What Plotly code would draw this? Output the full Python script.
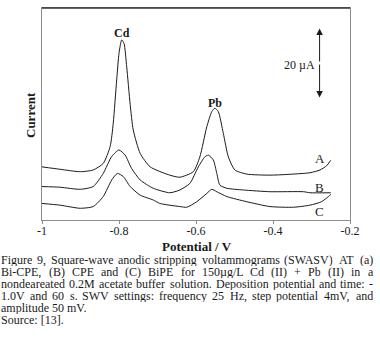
import plotly.graph_objects as go

# ---- data (potential in V, current in µA, arbitrary offset) ----
potential_a = [-1.0, -0.953, -0.901, -0.867, -0.841, -0.823, -0.815, -0.806, -0.800, -0.793,
               -0.787, -0.780, -0.771, -0.763, -0.745, -0.719, -0.668, -0.642, -0.607, -0.590,
               -0.572, -0.559, -0.551, -0.542, -0.529, -0.516, -0.499, -0.468, -0.408, -0.364,
               -0.304, -0.278, -0.261, -0.250]
current_a = [15.4, 14.7, 14.0, 14.5, 16.4, 21.3, 28.0, 40.6, 48.3, 52.2,
             51.2, 44.4, 33.5, 26.1, 19.3, 15.4, 13.0, 12.4, 14.0, 18.3,
             27.0, 31.4, 32.4, 31.4, 25.1, 18.3, 14.5, 13.3, 13.0, 13.2,
             13.7, 14.5, 15.7, 17.3]

potential_b = [-1.0, -0.953, -0.901, -0.867, -0.841, -0.819, -0.800, -0.784, -0.767, -0.745,
               -0.711, -0.668, -0.642, -0.616, -0.594, -0.577, -0.568, -0.555, -0.546, -0.538,
               -0.520, -0.477, -0.408, -0.321, -0.304, -0.250]
current_b = [9.7, 9.5, 8.9, 9.7, 13.5, 18.4, 20.3, 18.8, 14.9, 11.6,
             9.2, 7.9, 8.7, 10.6, 15.4, 18.3, 18.8, 17.4, 13.5, 10.1,
             9.2, 8.7, 8.2, 8.2, 7.9, 7.9]

potential_c = [-1.0, -0.953, -0.901, -0.867, -0.841, -0.819, -0.804, -0.789, -0.771, -0.745,
               -0.711, -0.694, -0.642, -0.624, -0.598, -0.572, -0.559, -0.546, -0.520, -0.468,
               -0.408, -0.347, -0.304, -0.274, -0.256, -0.250]
current_c = [4.8, 4.3, 3.4, 3.9, 6.8, 11.6, 13.5, 12.6, 9.7, 7.2,
             5.8, 4.8, 3.9, 3.7, 5.3, 7.7, 8.9, 8.2, 6.8, 5.3,
             3.9, 3.7, 4.3, 5.3, 6.8, 7.4]

x_tick_values = [-1, -0.8, -0.6, -0.4, -0.2]
x_tick_labels = ["-1", "-0.8", "-0.6", "-0.4", "-0.2"]

curve_labels = ["A", "B", "C"]
peak_labels = ["Cd", "Pb"]
scale_bar_uA = 20

caption_justified = [
    "Figure 9, Square-wave anodic stripping voltammograms (SWASV) AT (a)",
    "Bi-CPE, (B) CPE and (C) BiPE for 150µg/L Cd (II) + Pb (II) in a",
    "nondeareated 0.2M acetate buffer solution. Deposition potential and time: -",
    "1.0V and 60 s. SWV settings: frequency 25 Hz, step potential 4mV, and",
]
caption_plain = ["amplitude 50 mV.", "Source: [13]."]

SERIF = "Liberation Serif, Times New Roman, serif"
INK = "#1a1a1a"

# ---- geometry helpers (pixel -> paper) ----
W_FIG, H_FIG = 380, 345
L, R, T, B = 42, 30, 8, 125
PW = W_FIG - L - R
PH = H_FIG - T - B


def xp(px):
    return (px - L) / PW


def yp(py):
    return (H_FIG - B - py) / PH


fig = go.Figure()
for xs, ys in [(potential_a, current_a), (potential_b, current_b), (potential_c, current_c)]:
    fig.add_trace(go.Scatter(x=xs, y=ys, mode="lines",
                             line=dict(color=INK, width=1, shape="spline", smoothing=0.6),
                             hoverinfo="skip", showlegend=False))

ann = []
# curve labels
for lab, yv in zip(curve_labels, [17.9, 9.5, 2.6]):
    ann.append(dict(x=-0.278, y=yv, xref="x", yref="y", text=lab, showarrow=False,
                    xanchor="center", yanchor="middle",
                    font=dict(family=SERIF, size=13, color=INK)))
# peak labels
for lab, (xv, yv) in zip(peak_labels, [(-0.792, 54.2), (-0.551, 33.9)]):
    ann.append(dict(x=xv, y=yv, xref="x", yref="y", text="<b>%s</b>" % lab, showarrow=False,
                    xanchor="center", yanchor="middle",
                    font=dict(family=SERIF, size=12, color=INK)))
# scale bar
ax_x, mid = -0.279, 45.5
for tip in (mid + scale_bar_uA / 2, mid - scale_bar_uA / 2):
    ann.append(dict(x=ax_x, y=tip, ax=ax_x, ay=mid, xref="x", yref="y", axref="x", ayref="y",
                    text="", showarrow=True, arrowhead=2, arrowsize=1.3, arrowwidth=1,
                    arrowcolor=INK, standoff=0, startstandoff=0))
ann.append(dict(x=-0.330, y=45.0, xref="x", yref="y", text="%d µA" % scale_bar_uA,
                xanchor="center", yanchor="middle",
                showarrow=False, font=dict(family=SERIF, size=12, color=INK)))

# axis titles
ann.append(dict(x=xp(30), y=yp(115), xref="paper", yref="paper", text="<b>Current</b>",
                xanchor="center", yanchor="middle",
                textangle=-90, showarrow=False, font=dict(family=SERIF, size=13, color=INK)))
ann.append(dict(x=xp(197), y=yp(246), xref="paper", yref="paper", text="<b>Potential / V</b>",
                xanchor="center", yanchor="middle", showarrow=False,
                font=dict(family=SERIF, size=13, color=INK)))

# caption with justified lines
WID = {' ': 250, '!': 333, '(': 333, ')': 333, '+': 564, ',': 250, '-': 333, '.': 250, '/': 278,
       ':': 278, ';': 278, '[': 333, ']': 333, 'A': 722, 'B': 667, 'C': 667, 'D': 722, 'E': 611,
       'F': 556, 'G': 722, 'H': 722, 'I': 333, 'J': 389, 'K': 722, 'L': 611, 'M': 889, 'N': 722,
       'O': 722, 'P': 556, 'Q': 722, 'R': 667, 'S': 556, 'T': 611, 'U': 722, 'V': 722, 'W': 944,
       'X': 722, 'Y': 722, 'Z': 611, 'a': 444, 'b': 500, 'c': 444, 'd': 500, 'e': 444, 'f': 333,
       'g': 500, 'h': 500, 'i': 278, 'j': 278, 'k': 500, 'l': 278, 'm': 778, 'n': 500, 'o': 500,
       'p': 500, 'q': 500, 'r': 333, 's': 389, 't': 278, 'u': 500, 'v': 500, 'w': 722, 'x': 500,
       'y': 500, 'z': 444, 'µ': 500}
CAP_SIZE = 12
LINE_H = 12


def tw(s):
    return sum(WID.get(c, 500) for c in s) * CAP_SIZE / 1000


left_px, right_px = 1, 373
line_y = [260, 272, 284, 296, 308, 320]
for i, line in enumerate(caption_justified):
    words = line.split(" ")
    widths = [tw(w) for w in words]
    gap = (right_px - left_px - sum(widths)) / (len(words) - 1)
    cx = left_px
    for w, wd in zip(words, widths):
        ann.append(dict(x=xp(cx), y=yp(line_y[i]), xref="paper", yref="paper", text=w,
                        xanchor="left", yanchor="middle", showarrow=False, borderpad=0, borderwidth=0,
                        height=LINE_H, valign="middle",
                        font=dict(family=SERIF, size=CAP_SIZE, color=INK)))
        cx += wd + gap
for j, line in enumerate(caption_plain):
    ann.append(dict(x=xp(left_px), y=yp(line_y[len(caption_justified) + j]), xref="paper", yref="paper",
                    text=line, xanchor="left", yanchor="middle", showarrow=False, borderpad=0,
                    borderwidth=0, height=LINE_H, valign="middle",
                    font=dict(family=SERIF, size=CAP_SIZE, color=INK)))

fig.update_layout(
    width=W_FIG, height=H_FIG,
    margin=dict(l=L, r=R, t=T, b=B, pad=0),
    paper_bgcolor="white", plot_bgcolor="white",
    showlegend=False,
    annotations=ann,
    shapes=[dict(type="line", xref="paper", yref="paper", x0=0, x1=1, y0=1, y1=1,
                 line=dict(color="#333333", width=1.5))],
    xaxis=dict(range=[-1, -0.2], tickvals=x_tick_values, ticktext=x_tick_labels,
               showgrid=False, zeroline=False, showline=True, mirror=True,
               linecolor="#8c8c8c", linewidth=1, ticks="outside", ticklen=3, tickcolor="#8c8c8c",
               ticklabelstandoff=-3,
               tickfont=dict(family=SERIF, size=12, color=INK)),
    yaxis=dict(range=[0, 61.45], showticklabels=False, showgrid=False, zeroline=False,
               showline=True, mirror=True, linecolor="#8c8c8c", linewidth=1, ticks=""),
)

fig.write_html("out.html", config={"displayModeBar": False},
               post_script="document.body.style.margin='0';document.body.style.overflow='hidden';")
